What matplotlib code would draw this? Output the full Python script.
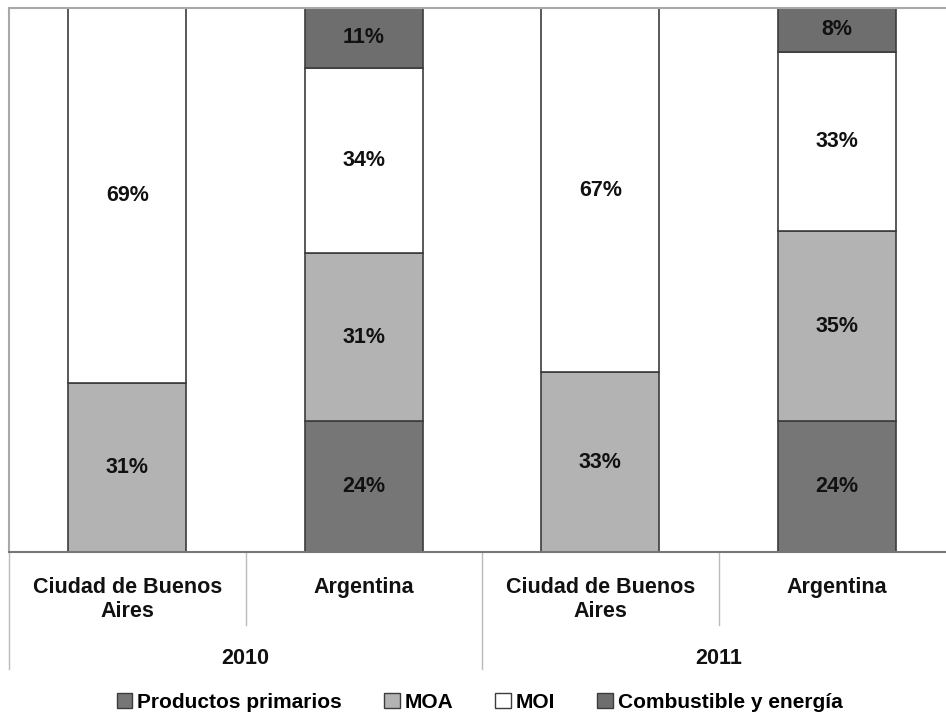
import numpy as np
import matplotlib.pyplot as plt
from matplotlib.patches import Patch

plt.rcParams['font.family'] = ['Liberation Sans', 'DejaVu Sans']
plt.rcParams['font.weight'] = 'bold'

# Datos
categorias = ['Ciudad de Buenos\nAires', 'Argentina', 'Ciudad de Buenos\nAires', 'Argentina']
anios = ['2010', '2011']
series = ['Productos primarios', 'MOA', 'MOI', 'Combustible y energía']
primarios = [0, 24, 0, 24]
moa = [31, 31, 33, 35]
moi = [69, 34, 67, 33]
combustible = [0, 11, 0, 8]
colores = ['#767676', '#b3b3b3', '#ffffff', '#6e6e6e']

fig = plt.figure(figsize=(9.46, 7.13), dpi=100)
W, H = 946, 713
ax = fig.add_axes([9 / W, (H - 552) / H, 946 / W, 544 / H])

x = np.arange(len(categorias))
base = np.zeros(len(categorias))
for nombre, vals, col in zip(series, [primarios, moa, moi, combustible], colores):
    vals = np.array(vals, dtype=float)
    ax.bar(x, vals, width=0.5, bottom=base, color=col, edgecolor='#3c3c3c',
           linewidth=1.2, label=nombre)
    for xi, v, b in zip(x, vals, base):
        if v > 0:
            ax.text(xi, b + v / 2, f'{int(v)}%', ha='center', va='center',
                    fontsize=15.5, fontweight='bold', color='#111111')
    base += vals

ax.set_xlim(-0.5, 3.5)
ax.set_ylim(0, 100)
ax.set_yticks([])
ax.set_xticks([])
for s in ['top', 'left', 'right']:
    ax.spines[s].set_color('#a8a8a8')
    ax.spines[s].set_linewidth(1.5)
ax.spines['bottom'].set_color('#777777')
ax.spines['bottom'].set_linewidth(1.5)

# Etiquetas de categorias y separadores
for xi, cat in zip(x, categorias):
    ax.text(xi, -4.6, cat, ha='center', va='top', fontsize=15.5,
            fontweight='bold', color='#111111', linespacing=1.2)
for i, a in enumerate(anios):
    ax.text(2 * i + 0.5, -19.5, a, ha='center', va='center', fontsize=15.5,
            fontweight='bold', color='#111111')
for xs in [0.5, 2.5]:
    ax.plot([xs, xs], [0, -13.5], color='#bbbbbb', lw=1, clip_on=False)
for xs in [-0.5, 1.5, 3.5]:
    ax.plot([xs, xs], [0, -21.5], color='#bbbbbb', lw=1, clip_on=False)

handles = [Patch(facecolor=c, edgecolor='#3c3c3c', label=s) for s, c in zip(series, colores)]
fig.legend(handles=handles, loc='center', bbox_to_anchor=(0.507, (H - 702) / H), ncol=4,
           frameon=False, fontsize=15, handlelength=0.75, handleheight=0.75,
           handletextpad=0.25, columnspacing=2.0)

fig.savefig('out.png', dpi=100)
